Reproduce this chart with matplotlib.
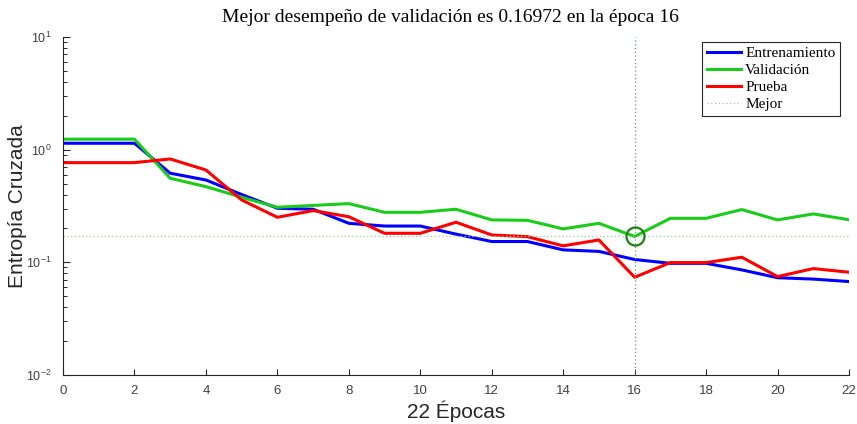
import matplotlib
matplotlib.use("Agg")
import matplotlib.pyplot as plt
from matplotlib.ticker import LogLocator, NullFormatter, FixedLocator

plt.rcParams['mathtext.fontset'] = 'custom'
plt.rcParams['mathtext.rm'] = 'Liberation Sans'
plt.rcParams['mathtext.it'] = 'Liberation Sans:italic'
plt.rcParams['mathtext.bf'] = 'Liberation Sans:bold'
plt.rcParams['font.family'] = ['Liberation Sans', 'DejaVu Sans']

epochs = list(range(23))
entrenamiento = [1.14, 1.14, 1.14, 0.618, 0.538, 0.40, 0.302, 0.296, 0.222, 0.21, 0.21,
                 0.178, 0.153, 0.153, 0.129, 0.125, 0.106, 0.098, 0.098, 0.0857, 0.073, 0.071, 0.0675]
validacion = [1.24, 1.24, 1.24, 0.557, 0.47, 0.378, 0.308, 0.32, 0.332, 0.278, 0.278,
              0.296, 0.238, 0.236, 0.198, 0.222, 0.16972, 0.246, 0.246, 0.294, 0.238, 0.269, 0.239]
prueba = [0.767, 0.767, 0.767, 0.827, 0.66, 0.358, 0.251, 0.288, 0.254, 0.181, 0.181,
          0.227, 0.175, 0.169, 0.14, 0.158, 0.0737, 0.0995, 0.0995, 0.111, 0.0747, 0.088, 0.0817]
best_epoch = 16
best_value = 0.16972
xticks = list(range(0, 23, 2))

W, H = 857, 424
fig = plt.figure(figsize=(W/100, H/100), dpi=100)
ax = fig.add_axes([63/W, 1-375/H, (849-63)/W, (375-37)/H])

ax.plot(epochs, entrenamiento, color=(0, 0, 1), lw=2.2, label="Entrenamiento")
ax.plot(epochs, validacion, color=(0.1, 0.8, 0.1), lw=2.2, label="Validación")
ax.plot(epochs, prueba, color=(1, 0, 0), lw=2.2, label="Prueba")
ax.axhline(best_value, color=(0.55, 0.82, 0.55), lw=0.9, ls=(0, (1, 2)), label="Mejor")
ax.axvline(best_epoch, color=(0.4, 0.6, 0.45), lw=0.9, ls=(0, (1, 2)))
ax.plot([best_epoch], [best_value], 'o', mfc='none', mec=(0.1, 0.5, 0.1), ms=13, mew=1.6)

ax.set_yscale('log')
ax.set_ylim(1e-2, 1e1)
ax.set_xlim(0, 22)
ax.xaxis.set_major_locator(FixedLocator(xticks))
ax.yaxis.set_major_locator(LogLocator(base=10, numticks=10))
ax.yaxis.set_minor_locator(LogLocator(base=10, subs=range(2, 10), numticks=20))
ax.yaxis.set_minor_formatter(NullFormatter())

for s in ['top', 'right']:
    ax.spines[s].set_visible(False)
for s in ['left', 'bottom']:
    ax.spines[s].set_color('#262626')
    ax.spines[s].set_linewidth(0.8)
ax.tick_params(axis='both', which='both', direction='in', colors='#262626')
ax.tick_params(axis='y', which='major', length=5, labelsize=9, pad=8)
ax.tick_params(axis='y', which='minor', length=3, width=0.7)
ax.tick_params(axis='x', which='major', length=4, labelsize=9.5, pad=7)
for lbl in ax.get_xticklabels() + ax.get_yticklabels():
    lbl.set_color('#404040')

fig.text(456/W, 1-411/H, "22 Épocas", fontsize=15, family='Liberation Sans',
         color='#262626', ha='center', va='center')
fig.text(18/W, 1-206/H, "Entropía Cruzada", fontsize=15, family='Liberation Sans',
         color='#262626', ha='center', va='center', rotation=90)
fig.text(450/W, 1-17/H, "Mejor desempeño de validación es 0.16972 en la época 16",
         fontsize=14, family='Liberation Serif', ha='center', va='center')

leg = ax.legend(loc='upper right', prop={'family': 'Liberation Serif', 'size': 11},
                frameon=True, fancybox=False, edgecolor='#262626', framealpha=1,
                borderpad=0.3, labelspacing=0.22, handlelength=2.2, handletextpad=0.3,
                borderaxespad=0, bbox_to_anchor=((840-63)/786, 1-(42-37)/338))
leg.get_frame().set_linewidth(0.8)

fig.savefig("out.png", dpi=100)
